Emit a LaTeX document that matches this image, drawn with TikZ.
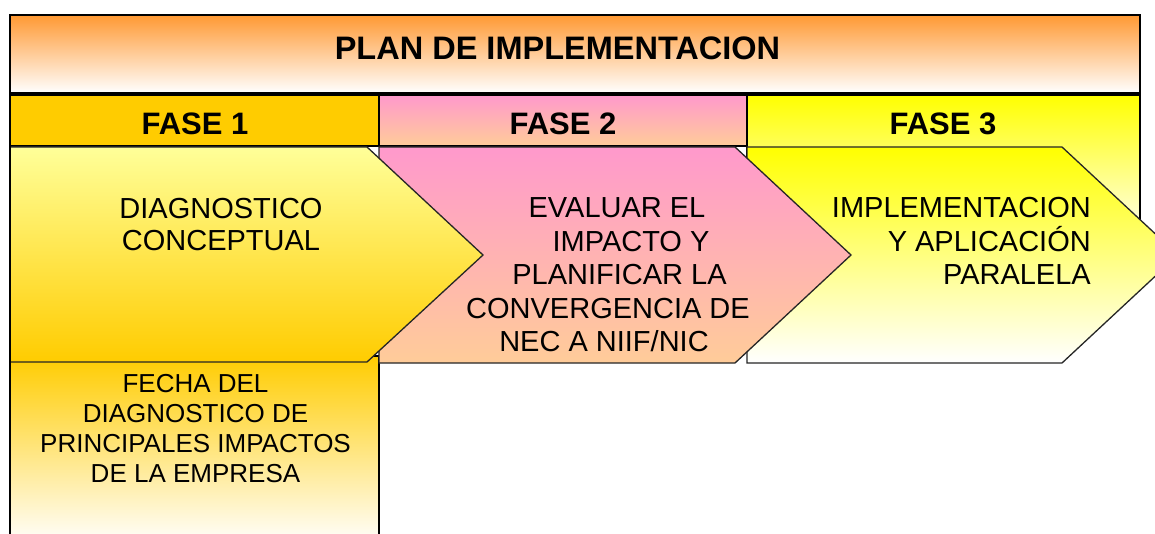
\documentclass[tikz,border=0pt]{standalone}
\usepackage{fontspec}
\setmainfont{Liberation Sans}
\definecolor{ttlorange}{HTML}{FF9933}
\definecolor{fgold}{HTML}{FFCC00}
\definecolor{flight}{HTML}{FFFF99}
\definecolor{fpink}{HTML}{FF99CC}
\definecolor{fpeach}{HTML}{FFCC99}
\definecolor{fyellow}{HTML}{FFFF00}
\begin{document}
\begin{tikzpicture}[x=1pt,y=-1pt,
  boxline/.style={draw=black,line width=2pt},
  chevline/.style={draw=black!85,line width=1.3pt,line join=miter},
  hdr/.style={anchor=base,inner sep=0pt,font=\fontsize{31}{36}\selectfont\bfseries},
  bodytext/.style={anchor=base,inner sep=0pt},
]
\clip (0,0) rectangle (1155,534);
\fill[white] (0,0) rectangle (1155,534);

% title
\path[boxline,top color=ttlorange,bottom color=white] (10,15) rectangle (1140,93);
\node[anchor=base,inner sep=0pt,font=\fontsize{32.5}{38}\selectfont\bfseries] (title) at (557.5,60) {PLAN DE IMPLEMENTACION};

% column boxes
\path[boxline,top color=fyellow,bottom color=white] (747,95) rectangle (1140,245);
\path[boxline,fill=fgold] (10,95) rectangle (379,146);
\path[boxline,top color=fpink,bottom color=fpeach] (379,95) rectangle (747,146);
\path[boxline,top color=fgold,bottom color=white] (10,356) rectangle (379,545);

% chevrons
\path[chevline,top color=fyellow,bottom color=white] (747,147) -- (1062,147) -- (1178,255) -- (1062,363) -- (747,363) -- cycle;
\path[chevline,top color=fpink,bottom color=fpeach] (379,147) -- (735,147) -- (851,255) -- (735,363) -- (379,363) -- cycle;
\path[chevline,top color=flight,bottom color=fgold] (10,147) -- (367,147) -- (483,255) -- (367,362) -- (10,362) -- cycle;
\draw[line width=2pt] (10,140) -- (10,545);

% headers
\node[hdr] (f1) at (195,135) {FASE 1};
\node[hdr] (f2) at (563,135) {FASE 2};
\node[hdr] (f3) at (943,135) {FASE 3};

% texts
\node[bodytext,font=\fontsize{29}{32}\selectfont] (t1) at (221,219)
  {\begin{tabular}[t]{@{}c@{}}DIAGNOSTICO\\CONCEPTUAL\end{tabular}};
\node[bodytext,font=\fontsize{29}{33.5}\selectfont] (t2) at (615,218)
  {\begin{tabular}[t]{@{}c@{}}\hspace*{4pt}EVALUAR EL\\\hspace*{32pt}IMPACTO Y\\\hspace*{9pt}PLANIFICAR LA\\\hspace*{-14pt}CONVERGENCIA DE\\\hspace*{-22pt}NEC A NIIF/NIC\end{tabular}};
\node[bodytext,anchor=base east,font=\fontsize{29}{33.5}\selectfont] (t3) at (1091,218)
  {\begin{tabular}[t]{@{}r@{}}IMPLEMENTACION\\\smash{Y APLICACIÓN}\\PARALELA\end{tabular}};
\node[bodytext,font=\fontsize{26}{30.3}\selectfont] (t4) at (195.5,392)
  {\begin{tabular}[t]{@{}c@{}}FECHA DEL\\DIAGNOSTICO DE\\PRINCIPALES IMPACTOS\\DE LA EMPRESA\end{tabular}};
\end{tikzpicture}
\end{document}
